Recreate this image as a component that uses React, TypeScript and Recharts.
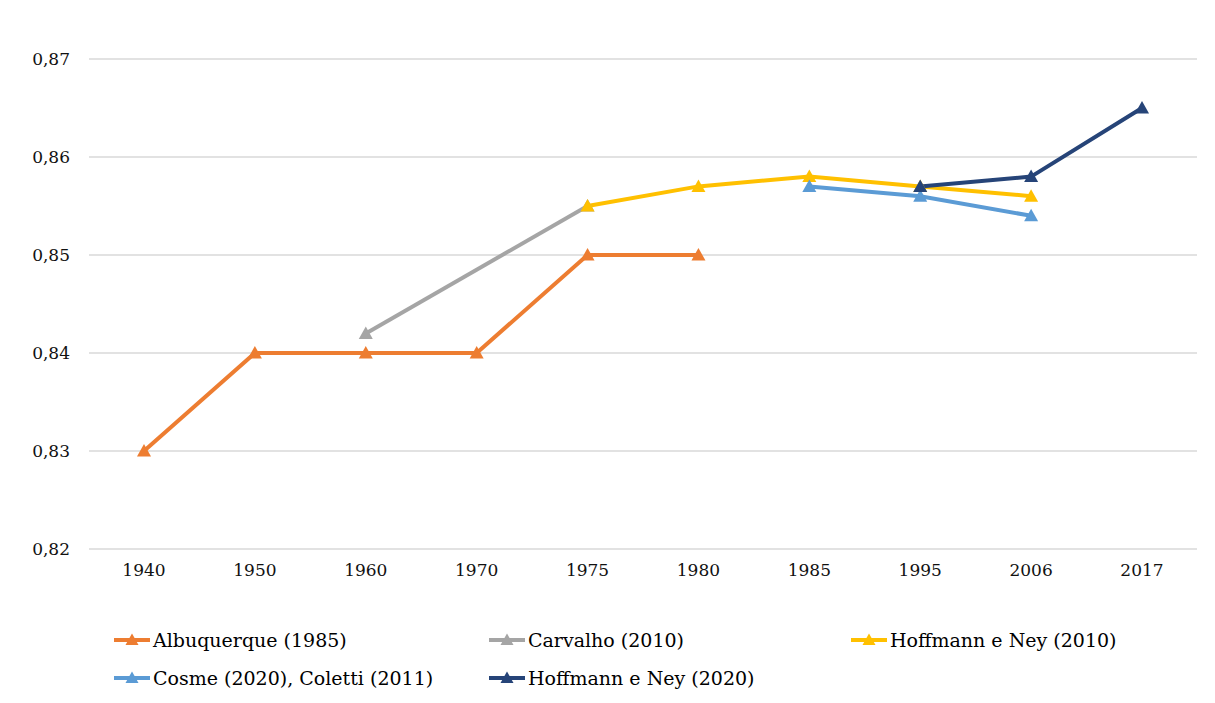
import React from "react";
import { LineChart, Line, XAxis, YAxis, CartesianGrid } from "recharts";

const years = ["1940", "1950", "1960", "1970", "1975", "1980", "1985", "1995", "2006", "2017"];
const albuquerque = [0.83, 0.84, 0.84, 0.84, 0.85, 0.85, null, null, null, null];
const carvalho = [null, null, 0.842, null, 0.855, null, null, null, null, null];
const hoffmann2010 = [null, null, null, null, 0.855, 0.857, 0.858, 0.857, 0.856, null];
const cosme = [null, null, null, null, null, null, 0.857, 0.856, 0.854, null];
const hoffmann2020 = [null, null, null, null, null, null, null, 0.857, 0.858, 0.865];
const yTicks = [0.82, 0.83, 0.84, 0.85, 0.86, 0.87];

const series = [
  { key: "alb", name: "Albuquerque (1985)", color: "#ED7D31", values: albuquerque },
  { key: "car", name: "Carvalho (2010)", color: "#A5A5A5", values: carvalho },
  { key: "h10", name: "Hoffmann e Ney (2010)", color: "#FFC000", values: hoffmann2010 },
  { key: "cos", name: "Cosme (2020), Coletti (2011)", color: "#5B9BD5", values: cosme },
  { key: "h20", name: "Hoffmann e Ney (2020)", color: "#264478", values: hoffmann2020 },
];

const data = years.map((y, i) => {
  const row: Record<string, any> = { year: y };
  series.forEach((s) => (row[s.key] = s.values[i]));
  return row;
});

const FONT = "DejaVu Serif";

const triangle = (color: string) => (props: any) => {
  const { cx, cy, index, value } = props;
  if (cx == null || cy == null || value == null) return <g key={index} />;
  return (
    <polygon
      key={index}
      points={`${cx - 7},${cy + 5.5} ${cx + 7},${cy + 5.5} ${cx},${cy - 7}`}
      fill={color}
    />
  );
};

const LegendItem = ({ name, color }: { name: string; color: string }) => (
  <div style={{ display: "flex", alignItems: "center", height: 38 }}>
    <svg width={38} height={20} style={{ marginRight: 1 }}>
      <line x1={0} y1={10} x2={36} y2={10} stroke={color} strokeWidth={4} />
      <polygon points="11.5,15 24.5,15 18,3.5" fill={color} />
    </svg>
    <span style={{ fontSize: 19, color: "#000", fontFamily: FONT }}>{name}</span>
  </div>
);

export default function App() {
  return (
    <div
      style={{
        position: "relative",
        width: 1200,
        height: 700,
        marginLeft: -1,
        marginTop: -1,
        border: "1px solid #d9d9d9",
        background: "#fff",
        fontFamily: FONT,
      }}
    >
      <LineChart
        width={1198}
        height={600}
        data={data}
        margin={{ top: 51, right: 9, bottom: 29, left: 0 }}
      >
        <CartesianGrid vertical={false} stroke="#d9d9d9" strokeWidth={1.5} />
        <XAxis
          dataKey="year"
          axisLine={false}
          tickLine={false}
          tickSize={0}
          tickMargin={15}
          height={30}
          padding={{ left: 55, right: 55 }}
          tick={{ fontSize: 17, fill: "#111", fontFamily: FONT }}
        />
        <YAxis
          domain={[0.82, 0.87]}
          ticks={yTicks}
          width={81}
          axisLine={false}
          tickLine={false}
          tickSize={0}
          tickMargin={19}
          tickFormatter={(v: number) => v.toFixed(2).replace(".", ",")}
          tick={{ fontSize: 17, fill: "#111", fontFamily: FONT }}
        />
        {series.map((s) => (
          <Line
            key={s.key}
            dataKey={s.key}
            name={s.name}
            stroke={s.color}
            strokeWidth={4}
            connectNulls
            dot={triangle(s.color)}
            activeDot={false}
            isAnimationActive={false}
          />
        ))}
      </LineChart>
      <div
        style={{
          position: "absolute",
          left: 106,
          top: 613,
          display: "grid",
          gridTemplateColumns: "375px 362px auto",
        }}
      >
        {series.map((s) => (
          <LegendItem key={s.key} name={s.name} color={s.color} />
        ))}
      </div>
    </div>
  );
}
